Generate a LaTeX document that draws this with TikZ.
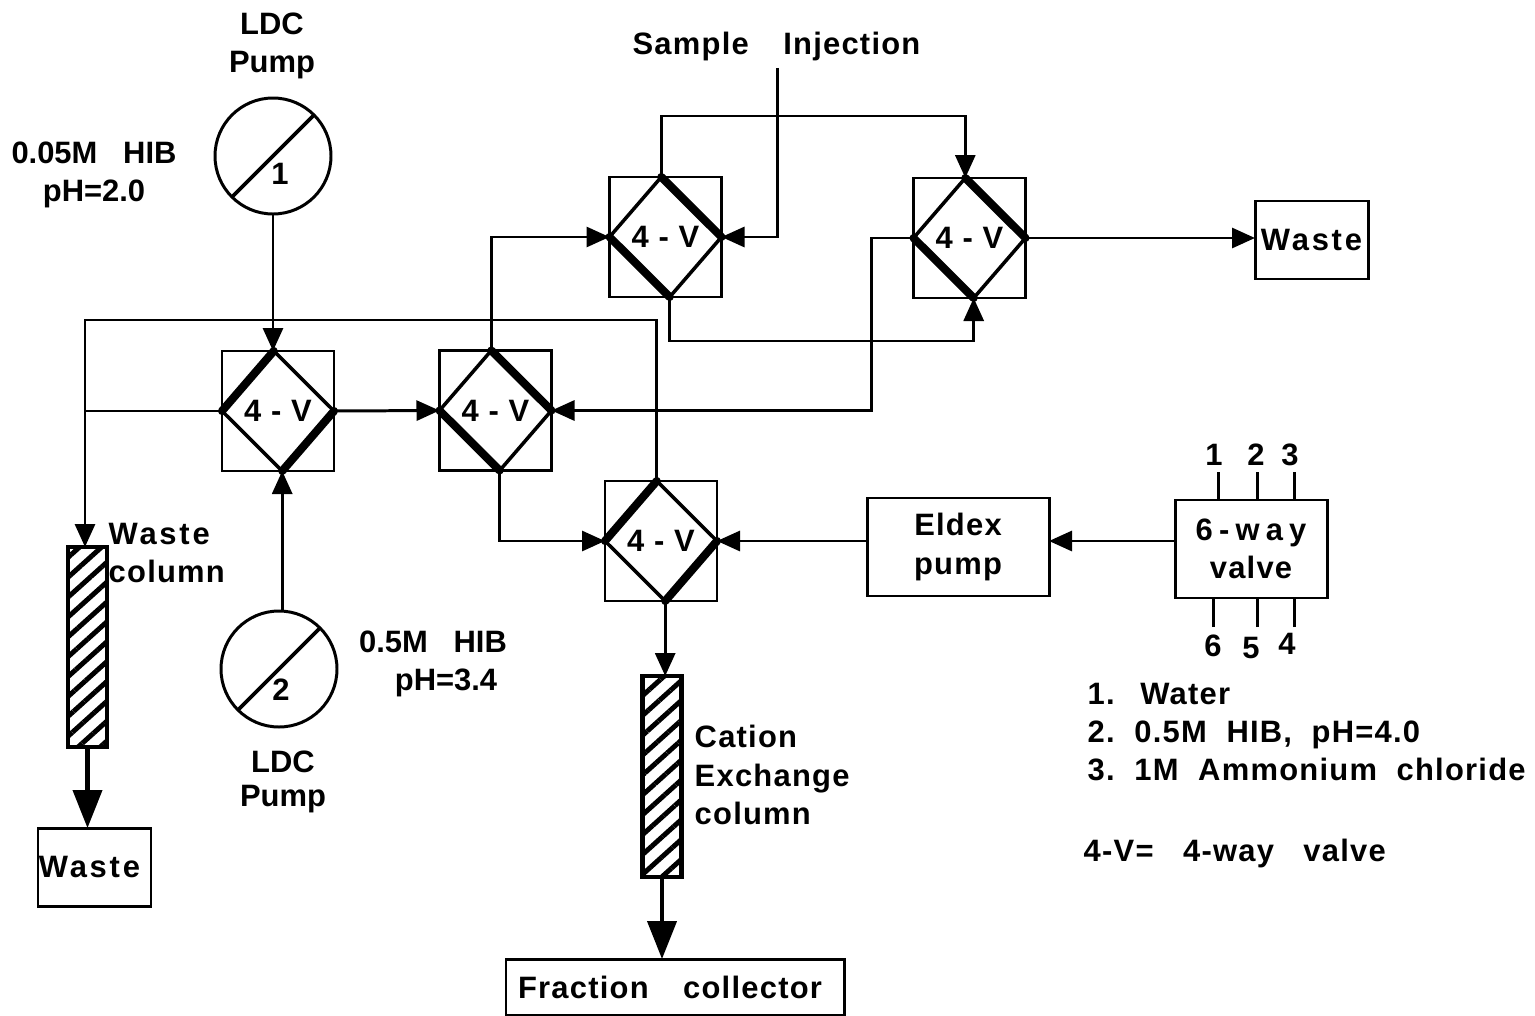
\documentclass[tikz,border=0pt]{standalone}
\usepackage{fontspec}
\setmainfont{Liberation Sans}
\newfontfamily\spaced[LetterSpace=9]{Liberation Sans}
\newfontfamily\tight[LetterSpace=4]{Liberation Sans}
\newfontfamily\wider[LetterSpace=20]{Liberation Sans}
\usetikzlibrary{arrows.meta, positioning, shapes.geometric, patterns.meta}
\begin{document}
\begin{tikzpicture}[
  valve/.style={rectangle, draw, line width=0.85pt, minimum width=1.12cm, minimum height=1.2cm,
                inner sep=0pt, outer sep=0pt, font=\fontsize{8.8}{10}\selectfont\bfseries\tight},
  port/.style={diamond, draw, line width=1pt, minimum width=1.12cm, minimum height=1.2cm,
               inner sep=0pt, outer sep=0pt, xslant=-0.07},
  side/.style={line width=2.3pt, line cap=round},
  wire/.style={line width=0.85pt},
  flow/.style={wire, -{Triangle[length=2.3mm,width=2mm]}},
  bigflow/.style={line width=1.2pt, -{Triangle[length=3.8mm,width=2.9mm]}},
  pump/.style={circle, draw, line width=0.85pt, minimum size=1.16cm, inner sep=0pt, outer sep=0pt},
  box/.style={rectangle, draw, line width=0.85pt, inner sep=0pt, outer sep=0pt, align=center,
              font=\fontsize{8.8}{10.9}\selectfont\bfseries\tight},
  col/.style={rectangle, draw, line width=1.2pt, inner sep=0pt, outer sep=0pt, minimum width=0.39cm,
              pattern={Lines[angle=42,distance=4.2pt,line width=1.4pt]}},
  lab/.style={inner sep=0pt, align=center, font=\fontsize{8.8}{10.9}\selectfont\bfseries},
  wlab/.style={inner sep=0pt, align=left, font=\fontsize{8.8}{10.9}\selectfont\bfseries\tight}]
\useasboundingbox (0,0) rectangle (15.35,-10.16);
% pumps
\node[pump] (p1) at (2.73,-1.56) {};
\node[pump] (p2) at (2.79,-6.69) {};
\draw[wire, line width=1.1pt] (p1.225) -- (p1.45);
\draw[wire, line width=1.1pt] (p2.225) -- (p2.45);
\node[lab] (n1) at (2.80,-1.74) {1};
\node[lab] (n2) at (2.81,-6.90) {2};
\node[lab] (l1) at (2.72,-0.46) {LDC\\Pump};
\node[lab] (l2) at (2.83,-7.82) {LDC\\[-0.04cm]Pump};
\node[lab] (h1) at (0.94,-1.75) {0.05M\ \ \ HIB\\pH=2.0};
\node[lab] (h2) at (4.33,-6.64) {0.5M\ \ \ HIB\\\hspace{0.26cm}pH=3.4};
% 4-way valves, square first and then the diamond on it
\node[valve] (v1) at (2.78,-4.11) {4 - V\hspace{0.12cm}};
\node[valve] (v2) at (4.955,-4.105) {4 - V};
\node[valve] (v3) at (6.655,-2.37) {4 - V};
\node[valve] (v4) at (9.695,-2.38) {4 - V};
\node[valve] (v5) at (6.61,-5.41) {4 - V};
\node[port] (d1) at (v1) {};
\node[port] (d2) at (v2) {};
\node[port] (d3) at (v3) {};
\node[port] (d4) at (v4) {};
\node[port] (d5) at (v5) {};
% heavy sides = open path of each valve
\draw[side] (d1.north) -- (d1.west);  \draw[side] (d1.south) -- (d1.east);
\draw[side] (d2.north) -- (d2.east);  \draw[side] (d2.south) -- (d2.west);
\draw[side] (d3.north) -- (d3.east);  \draw[side] (d3.south) -- (d3.west);
\draw[side] (d4.north) -- (d4.east);  \draw[side] (d4.south) -- (d4.west);
\draw[side] (d5.north) -- (d5.west);  \draw[side] (d5.south) -- (d5.east);
% columns
\node[col, minimum height=2cm] (wc) at (0.875,-6.47) {};
\node[col, minimum height=2.01cm] (cc) at (6.62,-7.765) {};
\node[wlab] (wl) at (1.08,-5.53) [anchor=west] {{\spaced Waste}\\column};
\node[wlab] (cl) at (6.94,-7.75) [anchor=west] {Cation\\Exchange\\column};
% boxes
\node[box, minimum width=1.13cm, minimum height=0.78cm] (w1) at (13.115,-2.40) {\spaced Waste};
\node[box, minimum width=1.13cm, minimum height=0.78cm] (w2) at (0.945,-8.67) {\spaced Waste\hspace{0.1cm}};
\node[box, minimum width=3.38cm, minimum height=0.56cm] (fc) at (6.75,-9.87) {Fraction\ \ \ \hspace{0.05cm}collector\hspace{0.1cm}};
\node[box, minimum width=1.82cm, minimum height=0.98cm] (eldex) at (9.58,-5.47) {Eldex\hspace{0.16cm}\\pump\hspace{0.16cm}};
\node[box, minimum width=1.52cm, minimum height=0.98cm] (six) at (12.51,-5.49) {{\wider 6-way}\hspace{0.2cm}\\valve};
% numbers round the 6-way valve
\node[lab] (s1) at (12.14,-4.55) {1};
\node[lab] (s2) at (12.56,-4.55) {2};
\node[lab] (s3) at (12.90,-4.55) {3};
\node[lab] (s6) at (12.13,-6.46) {6};
\node[lab] (s5) at (12.51,-6.48) {5};
\node[lab] (s4) at (12.87,-6.44) {4};
\draw[wire] (12.18,-4.72) -- (12.18,-4.72 |- six.north);
\draw[wire] (12.57,-4.72) -- (12.57,-4.72 |- six.north);
\draw[wire] (12.94,-4.72) -- (12.94,-4.72 |- six.north);
\draw[wire] (12.13,-6.27) -- (12.13,-6.27 |- six.south);
\draw[wire] (12.57,-6.27) -- (12.57,-6.27 |- six.south);
\draw[wire] (12.94,-6.27) -- (12.94,-6.27 |- six.south);
% text
\node[wlab] (inj) at (7.765,-0.47) {Sample\ \ \ \hspace{0.05cm}Injection};
\node[wlab, anchor=west] (key) at (10.87,-7.32) {1.\ \ \hspace{0.06cm}Water\\2.\ \ 0.5M\ \ HIB,\ \ pH=4.0\\3.\ \ 1M\ \ Ammonium\ \ chloride};
\node[wlab, anchor=west] (vk) at (10.83,-8.53) {4-V=\ \ \ 4-way\ \ \ valve};
\coordinate (injtop) at (7.77,-0.68);
\coordinate (busl) at (0.85,-3.20);
% pump lines
\draw[flow] (p1.south) -- (p1.south |- d1.north);
\draw[flow] (d1.south |- p2.north) -- (d1.south);
% return line over the valves
\draw[flow] (d5.north) |- (busl) -- (busl |- wc.north);
\draw[wire] (d1.west) -- (d1.west -| busl);
% valve to valve
\draw[flow] (d1.east) -- (d2.west);
\draw[flow] (d2.north) |- (d3.west);
\draw[flow] (d2.south) |- (d5.west);
\draw[flow] (injtop) |- (d3.east);
\draw[flow] (d3.north) -- ++(0,0.61) -| (d4.north);
\draw[flow] (d3.south) -- ++(0,-0.44) -| (d4.south);
\draw[flow] (d4.west) -- ++(-0.42,0) |- (d2.east);
\draw[flow] (d4.east) -- (d4.east -| w1.west);
% eluent side
\draw[flow] (six.west |- d5.east) -- (eldex.east |- d5.east);
\draw[flow] (eldex.west |- d5.east) -- (d5.east);
% columns out
\draw[flow] (d5.south) -- (d5.south |- cc.north);
\draw[bigflow] (wc.south) -- (wc.south |- w2.north);
\draw[bigflow] (cc.south) -- (cc.south |- fc.north);
\end{tikzpicture}
\end{document}
